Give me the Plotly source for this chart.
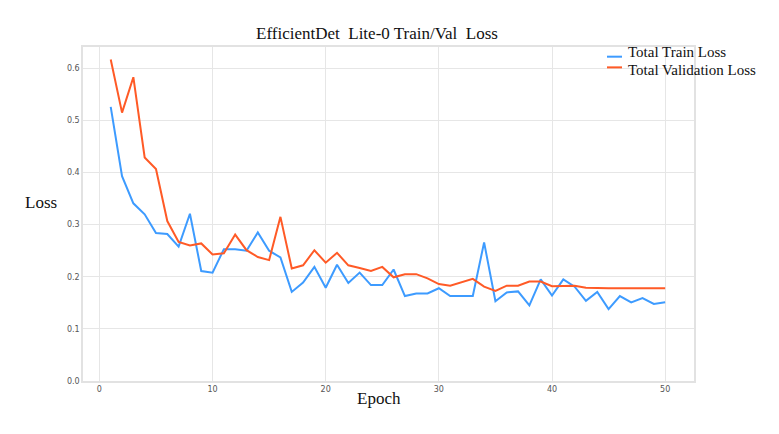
import plotly.graph_objects as go

# loss values per epoch
epochs = list(range(1, 51))
train_loss = [0.526, 0.393, 0.341, 0.320, 0.284, 0.282, 0.258, 0.321, 0.211, 0.208,
              0.253, 0.253, 0.250, 0.285, 0.250, 0.237, 0.171, 0.189, 0.219, 0.179,
              0.223, 0.188, 0.208, 0.184, 0.184, 0.214, 0.163, 0.168, 0.168, 0.178,
              0.163, 0.163, 0.163, 0.266, 0.153, 0.170, 0.172, 0.145, 0.195, 0.164,
              0.195, 0.181, 0.154, 0.171, 0.138, 0.163, 0.151, 0.159, 0.148, 0.151]
val_loss = [0.617, 0.515, 0.583, 0.429, 0.407, 0.307, 0.267, 0.260, 0.264, 0.243,
            0.245, 0.281, 0.251, 0.238, 0.232, 0.315, 0.216, 0.222, 0.251, 0.227,
            0.246, 0.222, 0.217, 0.211, 0.219, 0.199, 0.205, 0.205, 0.197, 0.186,
            0.183, 0.190, 0.196, 0.181, 0.173, 0.183, 0.183, 0.191, 0.191, 0.182,
            0.183, 0.183, 0.179, 0.178, 0.178, 0.178, 0.178, 0.178, 0.178, 0.178]
x_ticks = [0, 10, 20, 30, 40, 50]
y_ticks = [0.0, 0.1, 0.2, 0.3, 0.4, 0.5, 0.6]

serif = "Liberation Serif, Times New Roman, serif"
grid = "#e6e6e6"
train_col = "#3d9bff"
val_col = "#ff5a26"

fig = go.Figure()
fig.add_trace(go.Scatter(x=epochs, y=train_loss, mode="lines", name="Total Train Loss",
                         line=dict(color=train_col, width=2)))
fig.add_trace(go.Scatter(x=epochs, y=val_loss, mode="lines", name="Total Validation Loss",
                         line=dict(color=val_col, width=2)))

# legend drawn by hand so the short line samples match
# (label, colour, text y, sample y) in paper coords
legend_rows = [("Total Train Loss", train_col, 0.984, 0.971),
               ("Total Validation Loss", val_col, 0.932, 0.939)]
shapes = []
annotations = []
for label, col, ty, sy in legend_rows:
    shapes.append(dict(type="line", xref="paper", yref="paper", x0=0.8576, x1=0.8822,
                       y0=sy, y1=sy, line=dict(color=col, width=2)))
    annotations.append(dict(text=label, x=0.8887, y=ty, xref="paper", yref="paper",
                            xanchor="left", yanchor="middle", showarrow=False,
                            font=dict(family=serif, size=15, color="#111")))

annotations += [
    dict(text="Epoch", x=0.4845, y=-0.051, xref="paper", yref="paper",
         xanchor="center", yanchor="middle", showarrow=False,
         font=dict(family=serif, size=17, color="#111")),
    dict(text="Loss", x=-0.0687, y=0.533, xref="paper", yref="paper",
         xanchor="center", yanchor="middle", showarrow=False,
         font=dict(family=serif, size=17, color="#111")),
]

# page body adds ~8px offset, so margins are pulled in on the top/left
fig.update_layout(
    width=779, height=434,
    margin=dict(l=75, r=93, t=39, b=61, autoexpand=False),
    paper_bgcolor="white", plot_bgcolor="white",
    showlegend=False,
    title=dict(text="EfficientDet  Lite-0 Train/Val  Loss", x=0.4737, xref="container",
               y=0.9424, yref="container", xanchor="center", yanchor="middle",
               font=dict(family=serif, size=17, color="#111")),
    xaxis=dict(range=[-1.45, 52.55], tickvals=x_ticks, showgrid=True, gridcolor=grid,
               gridwidth=1, zeroline=False, showline=True, linecolor="#e2e2e2",
               linewidth=1.5, mirror=True, ticks="",
               tickfont=dict(family="DejaVu Sans", size=8, color="#555")),
    yaxis=dict(range=[0, 0.641], tickvals=y_ticks, tickformat=".1f", showgrid=True,
               gridcolor=grid, gridwidth=1, zeroline=False, showline=True,
               linecolor="#e2e2e2", linewidth=1.5, mirror=True, ticks="",
               tickfont=dict(family="DejaVu Sans", size=8, color="#555")),
    shapes=shapes,
    annotations=annotations,
)

fig.write_html("out.html")
